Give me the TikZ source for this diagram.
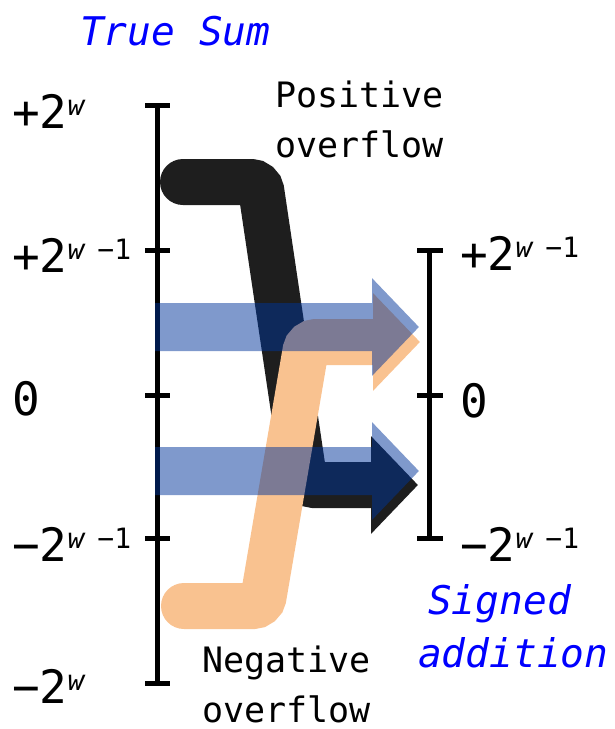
\documentclass[tikz,border=0pt]{standalone}
\usepackage{fontspec}
\setmainfont{DejaVu Sans Mono}
\usepackage{xcolor}
\definecolor{bandblue}{RGB}{0,52,153}
\definecolor{bandorange}{RGB}{249,194,144}
\definecolor{bandblack}{RGB}{30,30,30}
\definecolor{capblue}{RGB}{0,0,255}
\usepackage{tikz}
\usetikzlibrary{arrows.meta}
\newcommand{\expw}{\raisebox{13pt}{\fontsize{28}{28}\selectfont\itshape w}}
\newcommand{\expwm}{\raisebox{13pt}{\fontsize{28}{28}\selectfont\itshape w\upshape\hspace{13pt}−1}}
\tikzset{
  axis_line/.style={line width=5pt,draw=black},
  tick_mark/.style={line width=5pt,draw=black},
  tick_lbl/.style={anchor=base west,inner sep=0pt,
    font=\fontsize{46}{46}\selectfont},
  note_lbl/.style={anchor=base west,inner sep=0pt,align=left,
    font=\fontsize{35}{50}\selectfont},
  cap_lbl/.style={anchor=base west,inner sep=0pt,align=left,
    text=capblue,font=\fontsize{39.5}{53}\selectfont\itshape},
  band/.style={line width=46pt,rounded corners=9pt,
    -{Triangle[length=47pt,width=95pt]}},
  band_pos/.style={band,line cap=round,draw=bandblack},
  band_neg/.style={band,line cap=round,draw=bandorange},
  band_ok/.style={band,line width=48pt,draw=bandblue},
}

\begin{document}
\begin{tikzpicture}[x=1pt,y=-1pt]
  \useasboundingbox (0,0) rectangle (615,729);
  % axes
  \draw[axis_line] (157.5,105) -- (157.5,683);
  \foreach \y in {105,250,395,538,683}
    \draw[tick_mark] (145,\y) -- (170,\y);
  \draw[axis_line] (429.5,250) -- (429.5,538);
  \foreach \y in {250,395,538}
    \draw[tick_mark] (417,\y) -- (443,\y);
  % band points
  \coordinate (pos_a) at (183,182);
  \coordinate (pos_b) at (260,182);
  \coordinate (pos_c) at (305,485);
  \coordinate (pos_d) at (418,485);
  \coordinate (neg_a) at (184,606);
  \coordinate (neg_b) at (262,606);
  \coordinate (neg_c) at (307,342);
  \coordinate (neg_d) at (420,342);
  \coordinate (up_a) at (155,327);
  \coordinate (up_b) at (419,327);
  \coordinate (lo_a) at (155,471);
  \coordinate (lo_b) at (419,471);
  % bands
  \draw[band_pos] (pos_a) -- (pos_b) -- (pos_c) -- (pos_d);
  \draw[band_neg] (neg_a) -- (neg_b) -- (neg_c) -- (neg_d);
  \begin{scope}[transparency group,opacity=0.5]
    \draw[band_ok] (up_a) -- (up_b);
    \draw[band_ok] (lo_a) -- (lo_b);
  \end{scope}
  % labels
  \node[tick_lbl] (l_top) at (12,128) {+2\expw};
  \node[tick_lbl] (l_half) at (12,272) {+2\expwm};
  \node[tick_lbl] (l_zero) at (12,415) {0};
  \node[tick_lbl] (l_nhalf) at (12,561) {−2\expwm};
  \node[tick_lbl] (l_bot) at (12,703) {−2\expw};
  \node[tick_lbl] (r_half) at (460,270) {+2\expwm};
  \node[tick_lbl] (r_zero) at (460,417) {0};
  \node[tick_lbl] (r_nhalf) at (460,561) {−2\expwm};
  \node[note_lbl] (pos_txt) at (275,157) {Positive\\overflow};
  \node[note_lbl] (neg_txt) at (202,722) {Negative\\overflow};
  \node[cap_lbl] (true_txt) at (80,45) {True Sum};
  \node[cap_lbl] (sgn_txt) at (418,667) {\hspace{10pt}Signed\\addition};
\end{tikzpicture}
\end{document}
